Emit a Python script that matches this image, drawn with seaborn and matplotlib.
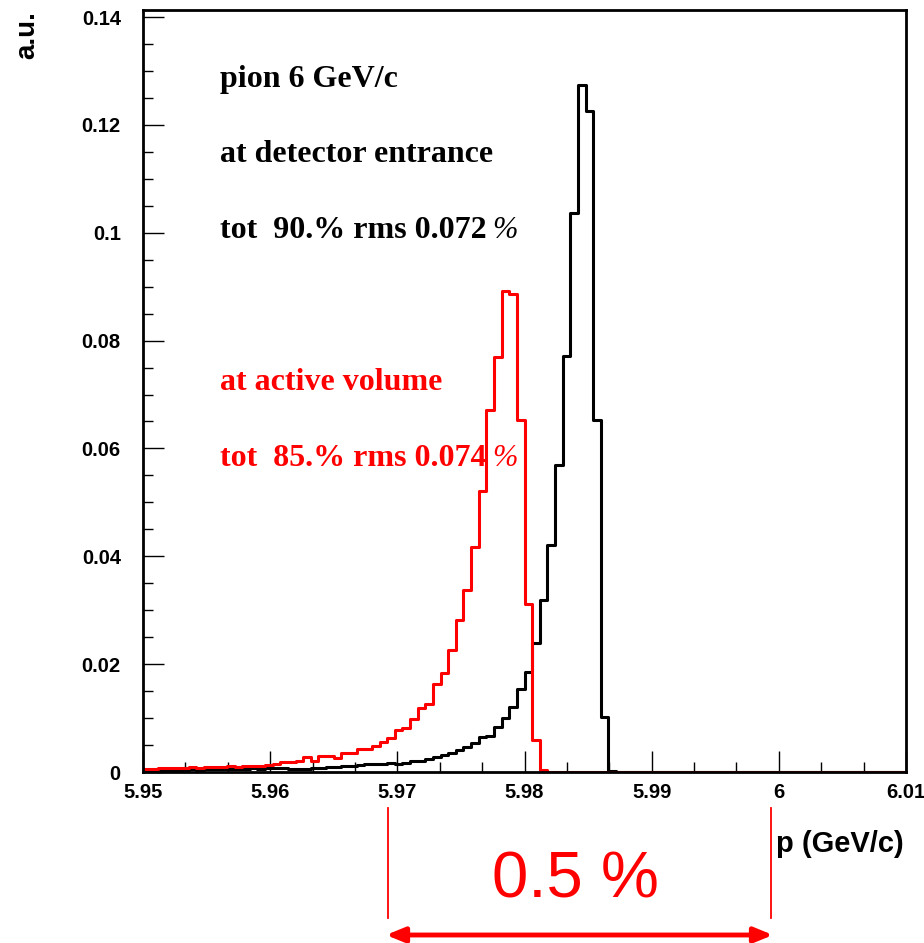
import numpy as np
import pandas as pd
import matplotlib
matplotlib.use("Agg")
import matplotlib.pyplot as plt
from matplotlib.ticker import MultipleLocator
import seaborn as sns

# histogram range and binning: 100 bins from 5.95 to 6.01 GeV/c
p_min, p_max, n_bins = 5.95, 6.01, 100

# momentum at detector entrance (black)
entrance = [0.0003, 0.0003, 0.0004, 0.0003, 0.0004, 0.0004, 0.0005, 0.0004, 0.0005, 0.0005,
            0.0006, 0.0005, 0.0006, 0.0006, 0.0007, 0.0006, 0.0007, 0.0008, 0.0007, 0.0006,
            0.0005, 0.0006, 0.0007, 0.0008, 0.0010, 0.0009, 0.0011, 0.0012, 0.0013, 0.0014,
            0.0015, 0.0015, 0.0017, 0.0015, 0.0017, 0.0021, 0.0021, 0.0024, 0.0027, 0.0032,
            0.0036, 0.0041, 0.0047, 0.0053, 0.0065, 0.0066, 0.0084, 0.0100, 0.0121, 0.0153,
            0.0186, 0.0240, 0.0319, 0.0421, 0.0569, 0.0771, 0.1037, 0.1273, 0.1225, 0.0652,
            0.0102, 0.0002] + [0.0] * 38

# momentum at active volume (red)
active = [0.0005, 0.0006, 0.0007, 0.0007, 0.0008, 0.0008, 0.0009, 0.0008, 0.0009, 0.0010,
          0.0010, 0.0011, 0.0010, 0.0011, 0.0012, 0.0012, 0.0013, 0.0015, 0.0019, 0.0018,
          0.0020, 0.0027, 0.0021, 0.0030, 0.0030, 0.0026, 0.0035, 0.0036, 0.0042, 0.0043,
          0.0048, 0.0056, 0.0063, 0.0078, 0.0082, 0.0098, 0.0118, 0.0127, 0.0164, 0.0184,
          0.0226, 0.0282, 0.0338, 0.0418, 0.0521, 0.0671, 0.0770, 0.0892, 0.0886, 0.0653,
          0.0312, 0.0059, 0.0003] + [0.0] * 47

edges = np.linspace(p_min, p_max, n_bins + 1)
centers = 0.5 * (edges[:-1] + edges[1:])
df = pd.DataFrame({"p": centers, "entrance": entrance, "active": active})
bin_w = (p_max - p_min) / n_bins

W, H = 924, 943
fig = plt.figure(figsize=(W / 100, H / 100), dpi=100)
ax = fig.add_axes([143 / W, 1 - 772 / H, (906 - 143) / W, (772 - 10) / H])

sns.histplot(data=df, x="p", weights="entrance", binwidth=bin_w, binrange=(p_min, p_max),
             element="step", fill=False, color="black", linewidth=2.2, ax=ax)
sns.histplot(data=df, x="p", weights="active", binwidth=bin_w, binrange=(p_min, p_max),
             element="step", fill=False, color="#ff0000", linewidth=2.2, ax=ax)

ax.set_xlim(p_min, p_max)
ax.set_ylim(0, 0.1413)
ax.set_xlabel("")
ax.set_ylabel("")

ax.xaxis.set_major_locator(MultipleLocator(0.01))
ax.xaxis.set_minor_locator(MultipleLocator(0.01 / 3))
ax.yaxis.set_major_locator(MultipleLocator(0.02))
ax.yaxis.set_minor_locator(MultipleLocator(0.005))
ax.tick_params(which="both", direction="in", top=False, right=False, width=1)
ax.tick_params(which="major", length=15)
ax.tick_params(which="minor", length=7)
ax.tick_params(axis="x", pad=8)
ax.tick_params(axis="y", pad=16)
for s in ax.spines.values():
    s.set_linewidth(2)

tick_font = dict(family="Liberation Sans", weight="bold", size=14.5)
ax.set_xticks([5.95, 5.96, 5.97, 5.98, 5.99, 6.0, 6.01])
ax.set_xticklabels(["5.95", "5.96", "5.97", "5.98", "5.99", "6", "6.01"], **tick_font)
ax.set_yticks([0, 0.02, 0.04, 0.06, 0.08, 0.1, 0.12, 0.14])
ax.set_yticklabels(["0", "0.02", "0.04", "0.06", "0.08", "0.1", "0.12", "0.14"], **tick_font)


def fx(x):
    return x / W


def fy(y):
    return 1 - y / H


serif = dict(family="Liberation Serif", weight="bold", size=23, va="center", ha="left")
fig.text(fx(220), fy(79), "pion 6 GeV/c", color="black", **serif)
fig.text(fx(220), fy(154), "at detector entrance", color="black", **serif)
t1 = fig.text(fx(220), fy(231), "tot  90.% rms 0.072", color="black", **serif)
fig.text(fx(220), fy(383), "at active volume", color="#ff0000", **serif)
t2 = fig.text(fx(220), fy(459), "tot  85.% rms 0.074", color="#ff0000", **serif)
for t, c in [(t1, "black"), (t2, "#ff0000")]:
    ax.annotate("%", xy=(1, 0), xycoords=t, xytext=(4, 0), textcoords="offset points",
                va="bottom", ha="left", family="Liberation Serif", style="italic",
                size=22, color=c)

fig.text(fx(27), fy(35), "a.u.", rotation=90, ha="center", va="center",
         family="Liberation Sans", weight="bold", size=20)
fig.text(fx(776), fy(844), "p (GeV/c)", ha="left", va="center",
         family="Liberation Sans", weight="bold", size=21)

# 0.5 % span annotation under the axis
red = "#ff0000"
for xl in (388, 771):
    fig.add_artist(plt.Line2D([fx(xl), fx(xl)], [fy(808), fy(918)], color=red, lw=1.3))
fig.text(fx(575), fy(880), "0.5 %", ha="center", va="center", color=red,
         family="Liberation Sans", size=47)
ax.annotate("", xy=(fx(386), fy(935)), xytext=(fx(773), fy(935)),
            xycoords="figure fraction", textcoords="figure fraction",
            arrowprops=dict(arrowstyle="<|-|>,head_length=1.1,head_width=0.45",
                            color=red, lw=3.5, shrinkA=0, shrinkB=0))

fig.savefig("out.png", dpi=100)
